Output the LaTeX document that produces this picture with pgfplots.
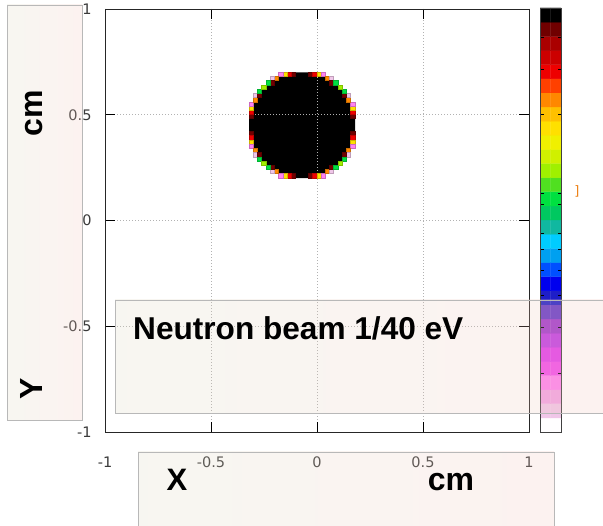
\documentclass[border=0pt]{standalone}
\usepackage{fontspec}
\usepackage{pgfplots}
\pgfplotsset{compat=1.18}
\newfontfamily\tickfont{DejaVu Sans}
\newfontfamily\annfont{Liberation Sans}
\definecolor{ticklab}{HTML}{3A3A3A}
\definecolor{boxL}{HTML}{DCD8BE}
\definecolor{boxR}{HTML}{F2C4BC}
\definecolor{boxedge}{HTML}{B8B8B8}
\pgfplotsset{colormap={gp}{
rgb255=(0,0,0) rgb255=(112,0,0) rgb255=(170,0,0) rgb255=(204,0,0) rgb255=(238,0,0)
rgb255=(255,64,0) rgb255=(255,136,0) rgb255=(255,192,0) rgb255=(255,224,0) rgb255=(240,240,0)
rgb255=(208,240,0) rgb255=(160,240,0) rgb255=(80,224,32) rgb255=(0,224,64) rgb255=(0,200,96)
rgb255=(16,184,160) rgb255=(0,204,255) rgb255=(0,160,240) rgb255=(0,80,255) rgb255=(0,0,238)
rgb255=(30,30,200) rgb255=(100,56,200) rgb255=(160,56,205) rgb255=(192,60,228) rgb255=(226,60,236)
rgb255=(242,76,236) rgb255=(255,130,240) rgb255=(242,164,228) rgb255=(240,198,232) rgb255=(255,255,255)}}
\begin{document}
\begin{tikzpicture}
\useasboundingbox (0,0) rectangle (603bp,526bp);
\begin{axis}[
  at={(105bp,94bp)}, anchor=south west,
  width=424bp, height=423bp, scale only axis,
  xmin=-1,xmax=1,ymin=-1,ymax=1,
  xtick={-1,-0.5,0,0.5,1}, ytick={-1,-0.5,0,0.5,1},
  xticklabels={-1,-0.5,0,0.5,1}, yticklabels={-1,-0.5,0,0.5,1},
  tick label style={font=\tickfont\fontsize{14.5bp}{16bp}\selectfont, text=ticklab},
  xticklabel style={yshift=-21bp},
  yticklabel style={xshift=-10bp},
  tick align=inside, major tick length=10bp,
  tick style={black, line width=0.6bp},
  axis line style={black!85, line width=0.8bp},
  grid=major, grid style={gray!60, line width=0.7bp, dash pattern=on 1bp off 2bp},
  axis on top,
  colormap name=gp, point meta min=0, point meta max=29,
]
\addplot[fill=black, draw=none] coordinates {
(-0.32,0.42) (-0.32,0.48) (-0.30,0.48) (-0.30,0.56) (-0.28,0.56) (-0.28,0.58)
(-0.26,0.58) (-0.26,0.62) (-0.24,0.62) (-0.24,0.64) (-0.20,0.64) (-0.20,0.66)
(-0.18,0.66) (-0.18,0.68) (-0.10,0.68) (-0.10,0.70) (-0.04,0.70) (-0.04,0.68)
(0.04,0.68) (0.04,0.66) (0.06,0.66) (0.06,0.64) (0.10,0.64) (0.10,0.62)
(0.12,0.62) (0.12,0.58) (0.14,0.58) (0.14,0.56) (0.16,0.56) (0.16,0.48)
(0.18,0.48) (0.18,0.42) (0.16,0.42) (0.16,0.34) (0.14,0.34) (0.14,0.32)
(0.12,0.32) (0.12,0.28) (0.10,0.28) (0.10,0.26) (0.06,0.26) (0.06,0.24)
(0.04,0.24) (0.04,0.22) (-0.04,0.22) (-0.04,0.20) (-0.10,0.20) (-0.10,0.22)
(-0.18,0.22) (-0.18,0.24) (-0.20,0.24) (-0.20,0.26) (-0.24,0.26) (-0.24,0.28)
(-0.26,0.28) (-0.26,0.32) (-0.28,0.32) (-0.28,0.34) (-0.30,0.34) (-0.30,0.42)
(-0.32,0.42)};
\addplot[scatter, only marks, mark=square*, mark size=2.12bp, point meta=explicit,
  every mark/.append style={line width=0pt}] table[meta=c] {
x y c
-0.03 0.69 1
-0.11 0.69 1
-0.03 0.21 1
-0.11 0.21 1
0.17 0.49 1
-0.31 0.49 1
0.17 0.41 1
-0.31 0.41 1
-0.01 0.69 4
-0.13 0.69 4
-0.01 0.21 4
-0.13 0.21 4
0.17 0.51 4
-0.31 0.51 4
0.17 0.39 4
-0.31 0.39 4
0.01 0.69 8
-0.15 0.69 8
0.01 0.21 8
-0.15 0.21 8
0.17 0.53 8
-0.31 0.53 8
0.17 0.37 8
-0.31 0.37 8
0.03 0.69 26
-0.17 0.69 26
0.03 0.21 26
-0.17 0.21 26
0.17 0.55 26
-0.31 0.55 26
0.17 0.35 26
-0.31 0.35 26
0.05 0.67 6
-0.19 0.67 6
0.05 0.23 6
-0.19 0.23 6
0.15 0.57 6
-0.29 0.57 6
0.15 0.33 6
-0.29 0.33 6
0.07 0.67 28
-0.21 0.67 28
0.07 0.23 28
-0.21 0.23 28
0.15 0.59 28
-0.29 0.59 28
0.15 0.31 28
-0.29 0.31 28
0.07 0.65 1
-0.21 0.65 1
0.07 0.25 1
-0.21 0.25 1
0.13 0.59 1
-0.27 0.59 1
0.13 0.31 1
-0.27 0.31 1
0.09 0.65 13
-0.23 0.65 13
0.09 0.25 13
-0.23 0.25 13
0.13 0.61 13
-0.27 0.61 13
0.13 0.29 13
-0.27 0.29 13
0.11 0.63 11
-0.25 0.63 11
0.11 0.27 11
-0.25 0.27 11
};
\end{axis}
\begin{axis}[
  at={(540bp,94bp)}, anchor=south west, width=21bp, height=424bp, scale only axis,
  xmin=0,xmax=1,ymin=0,ymax=30,
  xtick=\empty, ytick={4.17,7.43,9.69,11.46,12.95,14.08,16.13,16.91,22.5,25.68,27.95},
  yticklabels={}, tick align=inside, major tick length=3.5bp,
  tick style={black, line width=0.8bp},
  axis line style={black!75, line width=0.8bp}, axis on top,
  colormap name=gp, point meta min=0, point meta max=29, enlargelimits=false]
\addplot[matrix plot*, mesh/cols=2, point meta=explicit] table[meta=c] {
x y c
0.25 0.5 29
0.75 0.5 29
0.25 1.5 28
0.75 1.5 28
0.25 2.5 27
0.75 2.5 27
0.25 3.5 26
0.75 3.5 26
0.25 4.5 25
0.75 4.5 25
0.25 5.5 24
0.75 5.5 24
0.25 6.5 23
0.75 6.5 23
0.25 7.5 22
0.75 7.5 22
0.25 8.5 21
0.75 8.5 21
0.25 9.5 20
0.75 9.5 20
0.25 10.5 19
0.75 10.5 19
0.25 11.5 18
0.75 11.5 18
0.25 12.5 17
0.75 12.5 17
0.25 13.5 16
0.75 13.5 16
0.25 14.5 15
0.75 14.5 15
0.25 15.5 14
0.75 15.5 14
0.25 16.5 13
0.75 16.5 13
0.25 17.5 12
0.75 17.5 12
0.25 18.5 11
0.75 18.5 11
0.25 19.5 10
0.75 19.5 10
0.25 20.5 9
0.75 20.5 9
0.25 21.5 8
0.75 21.5 8
0.25 22.5 7
0.75 22.5 7
0.25 23.5 6
0.75 23.5 6
0.25 24.5 5
0.75 24.5 5
0.25 25.5 4
0.75 25.5 4
0.25 26.5 3
0.75 26.5 3
0.25 27.5 2
0.75 27.5 2
0.25 28.5 1
0.75 28.5 1
0.25 29.5 0
0.75 29.5 0
};
\end{axis}
\node[text=orange!70!brown, inner sep=0pt] at (577bp,335bp) {\tickfont\fontsize{13bp}{13bp}\selectfont ]};
% overlay boxes
\shade[left color=boxL, right color=boxR, opacity=0.22] (7bp,106bp) rectangle (82bp,521bp);
\draw[boxedge, line width=0.7bp] (7bp,106bp) rectangle (82bp,521bp);
\shade[left color=boxL, right color=boxR, opacity=0.22] (115bp,113bp) rectangle (603bp,226bp);
\draw[boxedge, line width=0.7bp] (603bp,113bp) -- (115bp,113bp) -- (115bp,226bp) -- (603bp,226bp);
\shade[left color=boxL, right color=boxR, opacity=0.22] (138bp,0bp) rectangle (554bp,74bp);
\draw[boxedge, line width=0.7bp] (138bp,0bp) -- (138bp,74bp) -- (554bp,74bp) -- (554bp,0bp);
\node[rotate=90, anchor=base, inner sep=0pt] at (42.5bp,413bp) {\annfont\bfseries\fontsize{32bp}{36bp}\selectfont cm};
\node[rotate=90, anchor=base, inner sep=0pt] at (42.5bp,137bp) {\annfont\bfseries\fontsize{32bp}{36bp}\selectfont Y};
\node[anchor=base west, inner sep=0pt] at (133bp,186bp) {\annfont\bfseries\fontsize{31.6bp}{36bp}\selectfont Neutron beam 1/40 eV};
\node[anchor=base, inner sep=0pt] at (177bp,36bp) {\annfont\bfseries\fontsize{31bp}{36bp}\selectfont X};
\node[anchor=base, inner sep=0pt] at (451bp,36bp) {\annfont\bfseries\fontsize{32bp}{36bp}\selectfont cm};
\end{tikzpicture}
\end{document}
